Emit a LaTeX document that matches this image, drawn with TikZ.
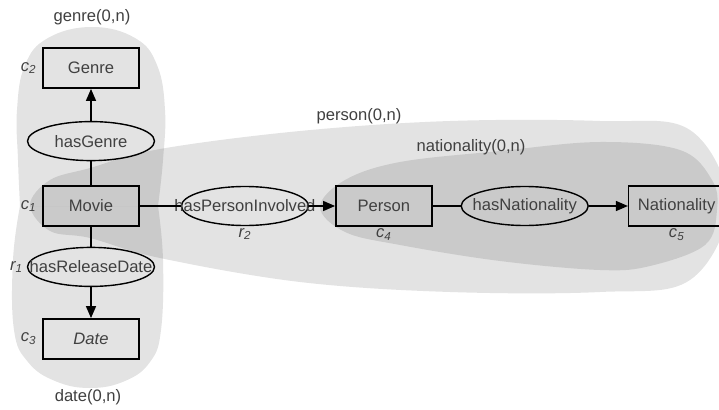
\documentclass[tikz,border=0pt]{standalone}
\usepackage{fontspec}
\setmainfont{Liberation Sans}
\usetikzlibrary{shapes.geometric, arrows.meta, positioning}

\newcommand{\rolename}[1]{\makebox[0pt]{#1}}
\newcommand{\idx}[2]{\textit{#1\textsubscript{#2}}}

\begin{document}
\begin{tikzpicture}[x=1pt, y=-1pt,
  every node/.style={font=\fontsize{16.6}{20}\selectfont, text=black!75},
  every label/.style={inner sep=1pt},
  concept/.style={rectangle, draw=black, line width=1.4pt, minimum width=96pt, minimum height=40pt, inner sep=0pt},
  role/.style={ellipse, draw=black, line width=1.4pt, minimum width=127pt, minimum height=39pt, inner sep=0pt},
  hull/.style={fill=black, fill opacity=0.11, draw=none},
  link/.style={line width=1.4pt},
  flow/.style={link, -{Triangle[length=12pt, width=10pt]}}]
\useasboundingbox (0,0) rectangle (719,409);

% groups
\fill[hull] plot[smooth, tension=0.7] coordinates {(158,206) (163,160) (165,110) (157,65) (135,38) (92,27) (48,38) (25,65) (17,110) (18,160) (20,206)} -- cycle;
\fill[hull] plot[smooth, tension=0.7] coordinates {(20,206) (13,260) (14,330) (28,362) (55,381) (90,388) (125,381) (150,362) (161,330) (163,260) (158,206)} -- cycle;
\fill[hull] plot[smooth cycle, tension=0.6] coordinates {(30,205) (50,180) (90,168) (160,149) (300,131) (450,121) (600,121) (690,130) (728,205) (690,280) (600,292) (450,292) (300,282) (160,258) (90,238) (50,231)};
\fill[hull] plot[smooth cycle, tension=0.6] coordinates {(320,207) (345,180) (400,162) (500,151) (600,142) (680,150) (712,180) (717,210) (705,245) (650,266) (600,270) (500,261) (400,245) (345,232)};

\node (genreSet) at (92,17) {genre(0,n)};
\node (dateSet) at (88,397) {date(0,n)};
\node (personSet) at (359,116) {person(0,n)};
\node (nationalitySet) at (471,147) {nationality(0,n)};

% concepts and roles
\node (Movie) [concept, label={[label distance=5pt]left:\idx{c}{1}}] at (91,206) {Movie};
\node (hasGenre) [role, above=24pt of Movie] {\rolename{hasGenre}};
\node (Genre) [concept, above=32pt of hasGenre, label={[label distance=5pt]left:\idx{c}{2}}] {Genre};
\node (hasReleaseDate) [role, below=20pt of Movie, label={[label distance=3pt]left:\idx{r}{1}}] {\rolename{hasReleaseDate}};
\node (Date) [concept, below=31pt of hasReleaseDate, label={[label distance=5pt]left:\idx{c}{3}}] {\textit{Date}};
\node (hasPersonInvolved) [role, right=41pt of Movie, label={[label distance=1pt]below:\idx{r}{2}}] {\rolename{hasPersonInvolved}};
\node (Person) [concept, right=26pt of hasPersonInvolved, label={[label distance=1pt]below:\idx{c}{4}}] {Person};
\node (hasNationality) [role, right=28pt of Person] {\rolename{hasNationality}};
\node (Nationality) [concept, right=39pt of hasNationality, label={[label distance=1pt]below:\idx{c}{5}}] {Nationality};

\draw[flow] (hasGenre) -- (Genre);
\draw[link] (Movie) -- (hasGenre);
\draw[link] (Movie) -- (hasReleaseDate);
\draw[flow] (hasReleaseDate) -- (Date);
\draw[link] (Movie) -- (hasPersonInvolved);
\draw[flow] (hasPersonInvolved) -- (Person);
\draw[link] (Person) -- (hasNationality);
\draw[flow] (hasNationality) -- (Nationality);
\end{tikzpicture}
\end{document}
